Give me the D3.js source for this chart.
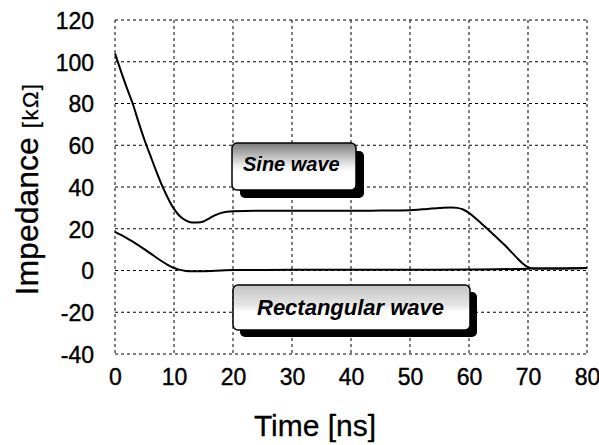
<!DOCTYPE html>
<html><head><meta charset="utf-8">
<script src="https://cdn.jsdelivr.net/npm/d3@7"></script>
<style>
html,body{margin:0;padding:0;background:#fff;}
svg text{font-family:"Liberation Sans",Arial,sans-serif;fill:#000;}
</style></head>
<body><svg id="c" width="599" height="445"></svg>
<script>
const xTicks = [0, 10, 20, 30, 40, 50, 60, 70, 80];
const yTicks = [-40, -20, 0, 20, 40, 60, 80, 100, 120];

const sineTime  = [0, 1, 2, 3, 4, 5, 6, 7, 8, 9, 10, 11, 12, 13, 14, 15, 16, 17, 18, 20, 25, 30, 35, 40, 45, 50, 52, 55, 57, 58, 59, 60, 61, 62, 63, 64, 65, 66, 67, 68, 69, 70, 71, 75, 80];
const sineValue = [104, 95.5, 87.5, 80, 71, 62.5, 55, 47.5, 40.5, 34.5, 29.5, 26, 24, 23, 23, 23.5, 25, 26.5, 27.6, 28.4, 28.6, 28.6, 28.6, 28.6, 28.7, 28.9, 29.3, 29.9, 30.2, 30, 29.2, 27.6, 25.3, 22.8, 20.2, 17.6, 15, 12.3, 9.4, 6.4, 3.6, 1.6, 1, 1, 1.2];

const rectTime  = [0, 2, 4, 6, 8, 9, 10, 11, 12, 13, 15, 18, 20, 30, 40, 50, 60, 70, 71, 75, 80];
const rectValue = [18.5, 15.5, 12, 8.2, 4.3, 2.6, 1.2, 0.3, -0.2, -0.4, -0.3, 0, 0.2, 0.3, 0.4, 0.4, 0.5, 0.8, 1, 1, 1.2];

const labels = ["Sine wave", "Rectangular wave"];
const xTitle = "Time [ns]";
const yTitleMain = "Impedance ";
const yTitleUnit = "[kΩ]";

const svg = d3.select("#c");
const x = d3.scaleLinear().domain([0, 80]).range([115, 587]);
const y = d3.scaleLinear().domain([-40, 120]).range([354, 20]);

const defs = svg.append("defs");
function grad(id, top) {
  const g = defs.append("linearGradient").attr("id", id).attr("x1", 0).attr("y1", 0).attr("x2", 0).attr("y2", 1);
  g.append("stop").attr("offset", "0%").attr("stop-color", top);
  g.append("stop").attr("offset", "45%").attr("stop-color", "#e6e6e6");
  g.append("stop").attr("offset", "60%").attr("stop-color", "#fff");
  g.append("stop").attr("offset", "100%").attr("stop-color", "#fff");
}
grad("g1", "#7a7a7a");
grad("g2", "#c4c4c4");

// grid
const grid = svg.append("g").attr("stroke", "#000").attr("stroke-width", 1).attr("stroke-dasharray", "3,3");
grid.selectAll("line.v").data(xTicks).join("line")
  .attr("x1", d => x(d)).attr("x2", d => x(d)).attr("y1", y(120)).attr("y2", y(-40));
grid.selectAll("line.h").data(yTicks).join("line")
  .attr("y1", d => y(d)).attr("y2", d => y(d)).attr("x1", x(0)).attr("x2", x(80));

// axes (labels only)
const fmt = d => String(d);
const xAxis = d3.axisBottom(x).tickValues(xTicks).tickFormat(fmt).tickSize(0).tickPadding(0);
const gx = svg.append("g").attr("transform", `translate(0,${y(-40)})`).call(xAxis);
gx.select(".domain").remove();
gx.selectAll("text").attr("font-size", 23).attr("dy", null).attr("y", 31)
  .attr("fill", "#000").attr("stroke", "#000").attr("stroke-width", 0.4);

const yAxis = d3.axisLeft(y).tickValues(yTicks).tickFormat(fmt).tickSize(0).tickPadding(0);
const gy = svg.append("g").attr("transform", `translate(94,0)`).call(yAxis);
gy.select(".domain").remove();
gy.selectAll("text").attr("font-size", 23).attr("dy", "0.36em")
  .attr("fill", "#000").attr("stroke", "#000").attr("stroke-width", 0.4);

// curves
const line = d3.line().x(d => x(d[0])).y(d => y(d[1])).curve(d3.curveMonotoneX);
svg.append("path").datum(sineTime.map((t, i) => [t, sineValue[i]]))
  .attr("d", line).attr("fill", "none").attr("stroke", "#000").attr("stroke-width", 2);
svg.append("path").datum(rectTime.map((t, i) => [t, rectValue[i]]))
  .attr("d", line).attr("fill", "none").attr("stroke", "#000").attr("stroke-width", 2);

// label boxes
function box(x0, y0, w, h, off, gid, text, fs, tx, ty) {
  const g = svg.append("g");
  g.append("rect").attr("x", x0 + off).attr("y", y0 + off).attr("width", w).attr("height", h)
    .attr("rx", 5).attr("fill", "#000");
  g.append("rect").attr("x", x0).attr("y", y0).attr("width", w).attr("height", h)
    .attr("rx", 5).attr("fill", `url(#${gid})`).attr("stroke", "#000").attr("stroke-width", 1.5);
  g.append("text").attr("x", tx).attr("y", ty).attr("font-size", fs)
    .attr("font-weight", "bold").attr("font-style", "italic").text(text);
}
box(232, 143, 124, 47, 8, "g1", labels[0], 20, 243, 171);
box(233, 285, 237, 45, 7, "g2", labels[1], 22, 257, 315);

// titles
svg.append("text").attr("x", 315).attr("y", 436).attr("text-anchor", "middle")
  .attr("font-size", 30).attr("stroke", "#000").attr("stroke-width", 0.3).text(xTitle);
const yt = svg.append("text").attr("transform", "translate(38,189) rotate(-90)")
  .attr("text-anchor", "middle").attr("font-size", 32).attr("stroke", "#000").attr("stroke-width", 0.3);
yt.append("tspan").text(yTitleMain);
yt.append("tspan").attr("font-size", 22).attr("letter-spacing", 1.5).text(yTitleUnit);
</script></body></html>
